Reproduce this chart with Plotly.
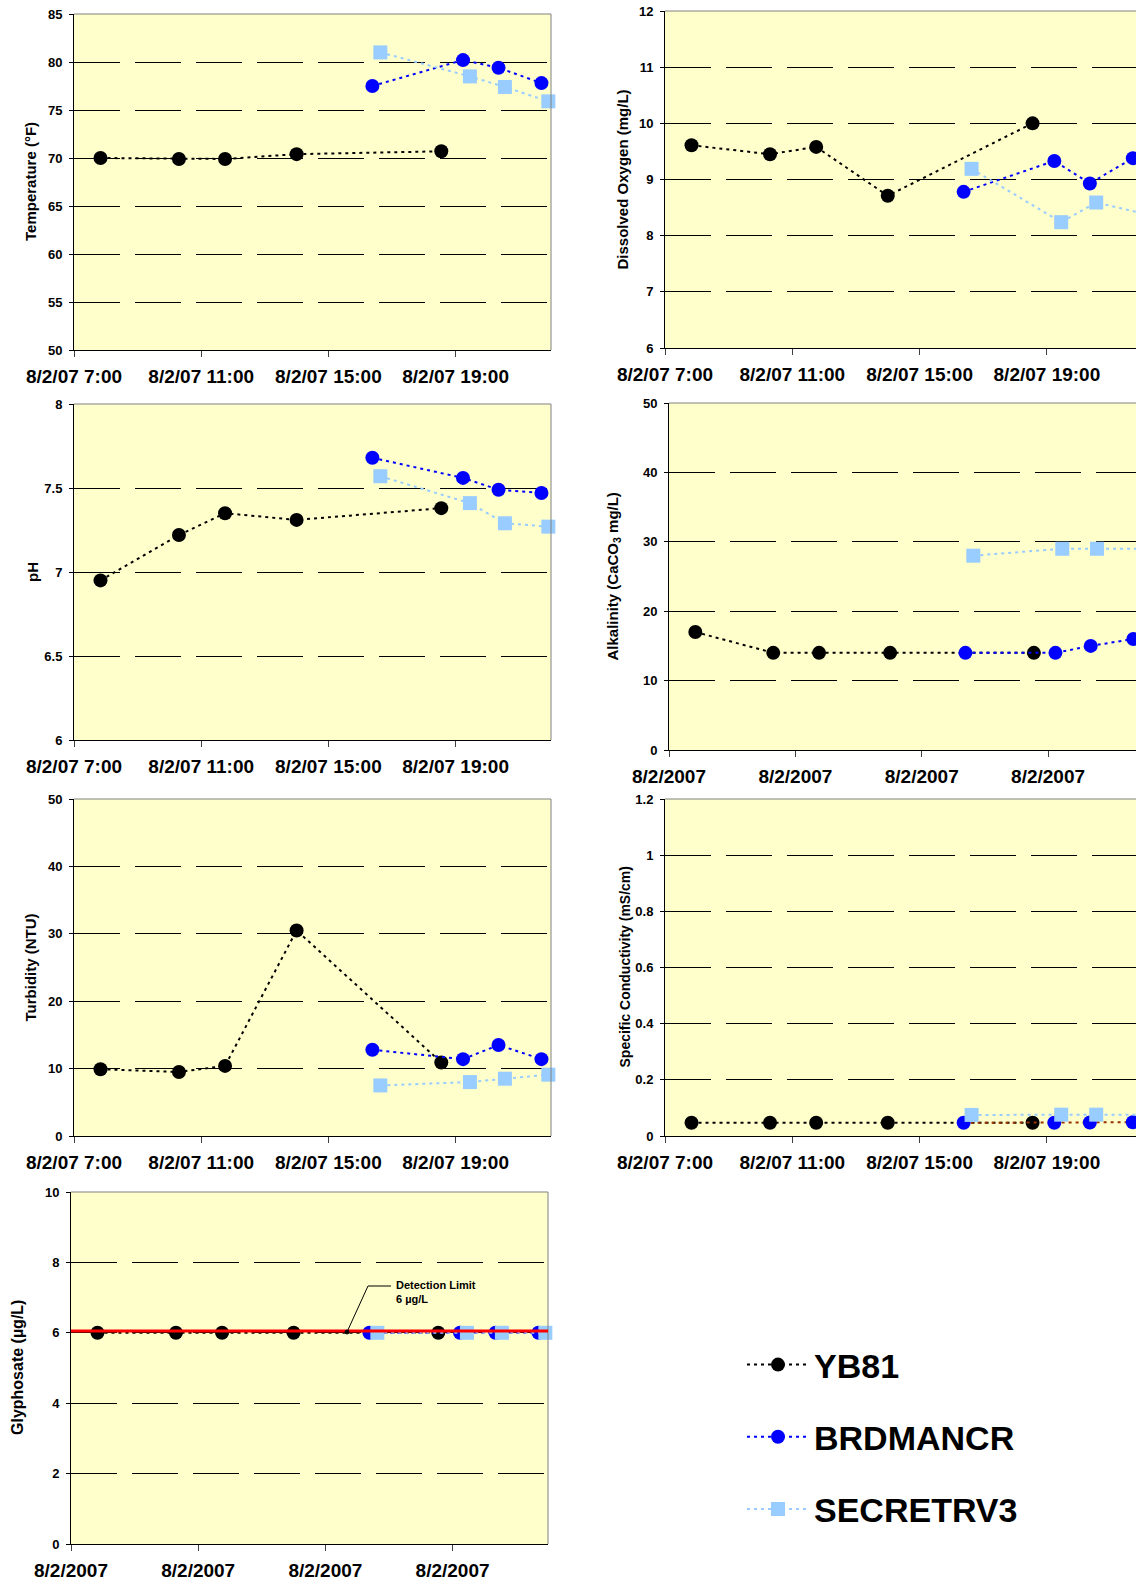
import plotly.graph_objects as go

W, H = 1136, 1585
DAY = "2007-08-02 "

# ---------------- data ----------------
SERIES = ["YB81", "BRDMANCR", "SECRETRV3"]
YB81_TIMES = ["07:50", "10:18", "11:45", "14:00", "18:33"]
BRD_TIMES = ["16:23", "19:14", "20:21", "21:42"]
SEC_TIMES = ["16:38", "19:27", "20:33", "21:55"]

TEMP_YB81 = [70.0, 69.9, 69.9, 70.4, 70.7]
TEMP_BRD = [77.5, 80.2, 79.4, 77.8]
TEMP_SEC = [81.0, 78.5, 77.4, 75.9]

DO_YB81 = [9.61, 9.45, 9.58, 8.71, 10.0]
DO_BRD = [8.78, 9.33, 8.93, 9.38]
DO_SEC = [9.19, 8.24, 8.59, 8.41]

PH_YB81 = [6.95, 7.22, 7.35, 7.31, 7.38]
PH_BRD = [7.68, 7.56, 7.49, 7.47]
PH_SEC = [7.57, 7.41, 7.29, 7.27]

ALK_YB81 = [17, 14, 14, 14, 14]
ALK_BRD = [14, 14, 15, 16]
ALK_SEC = [28, 29, 29, 29]

TURB_YB81 = [9.9, 9.5, 10.4, 30.5, 10.9]
TURB_BRD = [12.8, 11.4, 13.5, 11.4]
TURB_SEC = [7.5, 8.0, 8.5, 9.1]

COND_YB81 = [0.047, 0.047, 0.047, 0.047, 0.047]
COND_BRD = [0.047, 0.047, 0.048, 0.049]
COND_SEC = [0.075, 0.076, 0.076, 0.076]

GLY_YB81 = [6, 6, 6, 6, 6]
GLY_BRD = [6, 6, 6, 6]
GLY_SEC = [6, 6, 6, 6]

DETECTION_LINE = 6.05          # red detection-limit line as drawn
DETECTION_LABEL = "Detection Limit<br>6 µg/L"

X_START = "07:00"
X_TICK_STEP_H = 4

# ---------------- styles ----------------
FONT = "Liberation Sans, Arial, sans-serif"
STYLES = [
    dict(color="#000000", symbol="circle"),
    dict(color="#0000FF", symbol="circle"),
    dict(color="#99CCFF", symbol="square"),
]
FMT_TIME = "%-m/%-d/%y %-H:%M"
FMT_DATE = "%-m/%-d/%Y"

panels = [
    dict(title="Temperature (°F)", data=(TEMP_YB81, TEMP_BRD, TEMP_SEC), yr=[50, 85], dt=5,
         box=(74, 14, 551, 350), xend="22:00", fmt=FMT_TIME, tx=30, ts=15),
    dict(title="Dissolved Oxygen (mg/L)", data=(DO_YB81, DO_BRD, DO_SEC), yr=[6, 12], dt=1,
         box=(665, 11, 1136, 348), xend="21:48", fmt=FMT_TIME, tx=622, ts=15, right=False),
    dict(title="pH", data=(PH_YB81, PH_BRD, PH_SEC), yr=[6, 8], dt=0.5,
         box=(74, 404, 551, 740), xend="22:00", fmt=FMT_TIME, tx=32, ts=15),
    dict(title="Alkalinity (CaCO<sub>3</sub> mg/L)", data=(ALK_YB81, ALK_BRD, ALK_SEC), yr=[0, 50], dt=10,
         box=(669, 403, 1136, 750), xend="21:47", fmt=FMT_DATE, tx=613, ts=15, right=False),
    dict(title="Turbidity (NTU)", data=(TURB_YB81, TURB_BRD, TURB_SEC), yr=[0, 50], dt=10,
         box=(74, 799, 551, 1136), xend="22:00", fmt=FMT_TIME, tx=30, ts=15),
    dict(title="Specific Conductivity (mS/cm)", data=(COND_YB81, COND_BRD, COND_SEC), yr=[0, 1.2], dt=0.2,
         box=(665, 799, 1136, 1136), xend="21:48", fmt=FMT_TIME, tx=624, ts=14, right=False,
         line_override={1: "#993300"}),
    dict(title="Glyphosate (µg/L)", data=(GLY_YB81, GLY_BRD, GLY_SEC), yr=[0, 10], dt=2,
         box=(71, 1192, 548, 1544), xend="22:00", fmt=FMT_DATE, tx=17, ts=16),
]

times = [YB81_TIMES, BRD_TIMES, SEC_TIMES]

fig = go.Figure()
layout = {}
shapes = []
annotations = []

for i, p in enumerate(panels):
    n = i + 1
    sfx = "" if n == 1 else str(n)
    xa, ya = "x" + sfx, "y" + sfx
    for s, name in enumerate(SERIES):
        st = STYLES[s]
        lc = p.get("line_override", {}).get(s, st["color"])
        fig.add_trace(go.Scatter(
            x=[DAY + t for t in times[s]], y=p["data"][s], name=name,
            mode="lines+markers", xaxis=xa, yaxis=ya,
            line=dict(color=lc, width=2, dash="3px,4px"),
            marker=dict(symbol=st["symbol"], size=14, color=st["color"], line=dict(width=0)),
            showlegend=(n == 1), legendgroup=name, cliponaxis=False,
        ))
    x0, y0, x1, y1 = p["box"]
    layout["xaxis" + sfx] = dict(
        domain=[x0 / W, min(x1 / W, 1.0)], anchor=ya, type="date",
        range=[DAY + X_START, DAY + p["xend"]],
        tick0=DAY + X_START, dtick=X_TICK_STEP_H * 3600 * 1000, tickformat=p["fmt"],
        ticks="outside", ticklen=6, tickcolor="#404040", tickwidth=1,
        showline=True, linecolor="black", linewidth=1, showgrid=False, zeroline=False,
        tickfont=dict(family=FONT, size=19, weight="bold", color="black"),
        ticklabelstandoff=3, fixedrange=True, automargin=False,
    )
    layout["yaxis" + sfx] = dict(
        domain=[1 - y1 / H, 1 - y0 / H], anchor=xa, range=p["yr"],
        tick0=p["yr"][0], dtick=p["dt"], ticks="outside", ticklen=4, tickcolor="black",
        showline=True, linecolor="black", linewidth=1,
        showgrid=True, gridcolor="black", gridwidth=1, griddash="46px,15px",
        zeroline=False, tickfont=dict(family=FONT, size=13, weight="bold", color="black"),
        ticklabelstandoff=4, fixedrange=True, automargin=False,
    )
    # plot-area border (top, and right where visible)
    shapes.append(dict(type="line", xref=xa + " domain", yref=ya + " domain",
                       x0=0, x1=1, y0=1, y1=1, line=dict(color="#808080", width=1)))
    if p.get("right", True):
        shapes.append(dict(type="line", xref=xa + " domain", yref=ya + " domain",
                           x0=1, x1=1, y0=0, y1=1, line=dict(color="#808080", width=1)))
    annotations.append(dict(
        text=p["title"], xref="paper", yref="paper", x=p["tx"] / W,
        y=1 - (y0 + y1) / 2 / H, textangle=-90, showarrow=False,
        xanchor="center", yanchor="middle",
        font=dict(family=FONT, size=p["ts"], weight="bold", color="black"),
    ))

# detection limit line on glyphosate panel
shapes.append(dict(type="line", xref="x7 domain", yref="y7", x0=0, x1=1,
                   y0=DETECTION_LINE, y1=DETECTION_LINE,
                   line=dict(color="#FF0000", width=3), layer="above"))


# callout leader (elbow line + dot), page pixels converted to paper fractions
def px(xp, yp):
    return xp / W, 1 - yp / H


lx0, ly0 = px(347, 1332)
lx1, ly1 = px(368, 1286)
lx2, _ = px(391, 1286)
shapes.append(dict(type="path", xref="paper", yref="paper",
                   path=f"M{lx0},{ly0} L{lx1},{ly1} L{lx2},{ly1}",
                   line=dict(color="black", width=1)))
cx0, cy0 = px(345, 1330)
cx1, cy1 = px(349, 1334)
shapes.append(dict(type="circle", xref="paper", yref="paper",
                   x0=cx0, y0=cy1, x1=cx1, y1=cy0,
                   fillcolor="black", line=dict(color="black", width=1)))
annotations.append(dict(
    text=DETECTION_LABEL, xref="paper", yref="paper", x=394 / W, y=1 - 1292 / H,
    xanchor="left", yanchor="middle", align="left", showarrow=False,
    font=dict(family=FONT, size=11, weight="bold", color="black"),
))

fig.update_layout(
    width=W, height=H, margin=dict(l=0, r=0, t=0, b=0, autoexpand=False),
    paper_bgcolor="white", plot_bgcolor="#FFFFCC",
    font=dict(family=FONT, weight="bold", color="black"),
    shapes=shapes, annotations=annotations,
    showlegend=True,
    legend=dict(x=742 / W, y=1 - 1336 / H, xanchor="left", yanchor="top",
                font=dict(family=FONT, size=34, weight="bold", color="black"),
                bgcolor="rgba(0,0,0,0)", traceorder="grouped", tracegroupgap=25,
                itemwidth=62),
    **layout,
)

fig.write_html(
    "out.html",
    config={"displayModeBar": False},
    post_script="document.body.style.margin='0';document.body.style.padding='0';",
)
